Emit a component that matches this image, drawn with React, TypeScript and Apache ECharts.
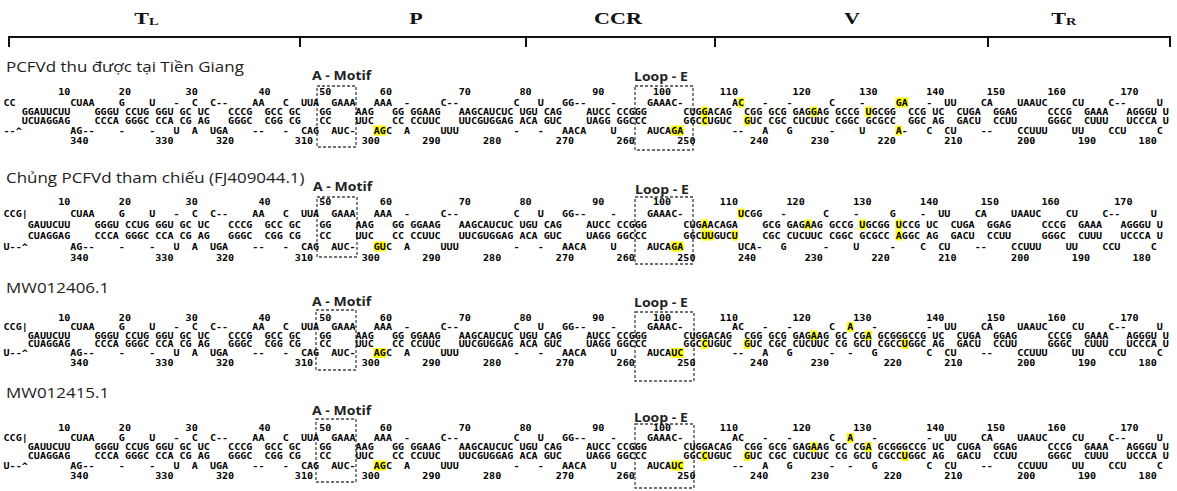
import React, { useEffect, useRef } from "react";
import * as echarts from "echarts";

// ---------------- DATA ----------------
// Region bracket labels (main letter + subscript)
const regionNames = ["T", "P", "CCR", "V", "T"];
const regionSubscripts = ["L", "", "", "", "R"];

const sampleNames = [
  "PCFVd thu được tại Tiền Giang",
  "Chủng PCFVd tham chiếu (FJ409044.1)",
  "MW012406.1",
  "MW012415.1",
];
const motifNames = ["A - Motif", "Loop - E"];

// mfold-style secondary structure, written as alternating loop / stem segments.
// line 1 = unpaired top, line 2 = paired top, line 3 = paired bottom, line 4 = unpaired bottom.
// Lower-case letters are the highlighted (yellow) nucleotides.

// PCFVd thu được tại Tiền Giang
const tgLoopTop = ["CC", "CUAA", "G", "U", "-", "C", "C--", "AA", "C", "UUA", "GAAA", "AAA", "-", "C--", "C", "U", "GG--", "-", "GAAAC-", "Ac", "-", "-", "C", "-", "ga", "-", "UU", "CA", "UAAUC", "CU", "C--", "U"];
const tgStemTop = ["GGAUUCUU", "GGGU", "CCUG", "GGU", "GC", "UC", "CCCG", "GCC", "GC", "GG", "AAG", "GG", "GGAAG", "AAGCAUCUC", "UGU", "CAG", "AUCC", "CCGGG", "CUGgACAG", "CGG", "GCG", "GAGgAG", "GCCG", "uGCGG", "CCG", "UC", "CUGA", "GGAG", "CCCG", "GAAA", "AGGGU", "U"];
const tgStemBottom = ["UCUAGGAG", "CCCA", "GGGC", "CCA", "CG", "AG", "GGGC", "CGG", "CG", "CC", "UUC", "CC", "CCUUC", "UUCGUGGAG", "ACA", "GUC", "UAGG", "GGCCC", "GGCcUGUC", "gUC", "CGC", "CUCUUC", "CGGC", "GCGCC", "GGC", "AG", "GACU", "CCUU", "GGGC", "CUUU", "UCCCA", "U"];
const tgLoopBottom = ["--^", "AG--", "-", "-", "U", "A", "UGA", "--", "-", "CAG", "AUC-", "agC", "A", "UUU", "-", "-", "AACA", "U", "AUCAga", "--", "A", "G", "-", "U", "a-", "C", "CU", "--", "CCUUU", "UU", "CCU", "C"];

// Chủng PCFVd tham chiếu (FJ409044.1)
const refLoopTop = ["CCG|", "CUAA", "G", "U", "-", "C", "C--", "AA", "C", "UUA", "GAAA", "AAA", "-", "C--", "C", "U", "GG--", "-", "GAAAC-", "uCGG", "-", "C", "-", "G", "-", "UU", "CA", "UAAUC", "CU", "C--", "U"];
const refStemTop = ["GAUUCUU", "GGGU", "CCUG", "GGU", "GC", "UC", "CCCG", "GCC", "GC", "GG", "AAG", "GG", "GGAAG", "AAGCAUCUC", "UGU", "CAG", "AUCC", "CCGGG", "CUGaACAGA", "GCG", "GAGaAG", "GCCG", "uGCGG", "uCCG", "UC", "CUGA", "GGAG", "CCCG", "GAAA", "AGGGU", "U"];
const refStemBottom = ["CUAGGAG", "CCCA", "GGGC", "CCA", "CG", "AG", "GGGC", "CGG", "CG", "CC", "UUC", "CC", "CCUUC", "UUCGUGGAG", "ACA", "GUC", "UAGG", "GGCCC", "GGCuuGUCu", "CGC", "CUCUUC", "CGGC", "GCGCC", "aGGC", "AG", "GACU", "CCUU", "GGGC", "CUUU", "UCCCA", "U"];
const refLoopBottom = ["U--^", "AG--", "-", "-", "U", "A", "UGA", "--", "-", "CAG", "AUC-", "guC", "A", "UUU", "-", "-", "AACA", "U", "AUCAga", "UCA-", "G", "-", "U", "-", "C", "CU", "--", "CCUUU", "UU", "CCU", "C"];

// MW012406.1
const mw06LoopTop = ["CCG|", "CUAA", "G", "U", "-", "C", "C--", "AA", "C", "UUA", "GAAA", "AAA", "-", "C--", "C", "U", "GG--", "-", "GAAAC-", "AC", "-", "-", "C", "a", "-", "-", "UU", "CA", "UAAUC", "CU", "C--", "U"];
const mw06StemTop = ["GAUUCUU", "GGGU", "CCUG", "GGU", "GC", "UC", "CCCG", "GCC", "GC", "GG", "AAG", "GG", "GGAAG", "AAGCAUCUC", "UGU", "CAG", "AUCC", "CCGGG", "CUGGACAG", "CGG", "GCG", "GAGaAG", "GC", "CGa", "GCGGGCCG", "UC", "CUGA", "GGAG", "CCCG", "GAAA", "AGGGU", "U"];
const mw06StemBottom = ["CUAGGAG", "CCCA", "GGGC", "CCA", "CG", "AG", "GGGC", "CGG", "CG", "CC", "UUC", "CC", "CCUUC", "UUCGUGGAG", "ACA", "GUC", "UAGG", "GGCCC", "GGCcUGUC", "gUC", "CGC", "CUCUUC", "CG", "GCU", "CGCCuGGC", "AG", "GACU", "CCUU", "GGGC", "CUUU", "UCCCA", "U"];
const mw06LoopBottom = ["U--^", "AG--", "-", "-", "U", "A", "UGA", "--", "-", "CAG", "AUC-", "agC", "A", "UUU", "-", "-", "AACA", "U", "AUCAuc", "--", "A", "G", "-", "-", "G", "C", "CU", "--", "CCUUU", "UU", "CCU", "C"];

// MW012415.1 (identical structure to MW012406.1 in the figure)
const mw15LoopTop = [...mw06LoopTop];
const mw15StemTop = [...mw06StemTop];
const mw15StemBottom = [...mw06StemBottom];
const mw15LoopBottom = [...mw06LoopBottom];

// ---------------- LAYOUT ----------------
const P = 6.07; // character pitch
const X0 = 3.5;
const NCOLS = 192;
const FS = 9;
const blockRowsY = [
  [92, 102.5, 111.5, 120.5, 130.5, 141],
  [202, 213.5, 224.5, 235.5, 246.5, 257.5],
  [318, 327, 335.5, 344, 353, 362.5],
  [428, 438, 447, 456, 465.5, 476],
];
const titleY = [66, 177, 287, 392];
const motifPos = [
  [[312, 75], [634, 76]],
  [[313, 186], [635, 189]],
  [[312, 301], [634, 302]],
  [[312, 410], [634, 417]],
];
const boxRects = [
  [[317, 86, 356, 147], [635, 86, 693, 150]],
  [[317, 197, 357, 257], [635, 197, 693, 264]],
  [[316, 310, 356, 370], [635, 312, 694, 381]],
  [[316, 419, 356, 482], [635, 424, 694, 488]],
];
const regionAnchors = [149, 416, 618, 852, 1066];
const bracketTicks = [9, 300, 526, 715, 988, 1170];

type Block = { lt: string[]; st: string[]; sb: string[]; lb: string[] };

const isNt = (ch: string) => /[ACGUacgu]/.test(ch);

function layoutBlock(b: Block): string[][] {
  const rows: string[][] = [[], [], [], []];
  const topCols: number[] = [];
  const botCols: number[] = [];
  let col = 0;
  for (let i = 0; i < b.lt.length; i++) {
    const a = b.lt[i] || "";
    const d = b.lb[i] || "";
    const w = Math.max(a.length, d.length);
    for (let k = 0; k < w; k++) {
      const ca = a[k] || " ";
      const cd = d[k] || " ";
      rows[0][col + k] = ca;
      rows[1][col + k] = " ";
      rows[2][col + k] = " ";
      rows[3][col + k] = cd;
      if (isNt(ca)) topCols.push(col + k);
      if (isNt(cd)) botCols.push(col + k);
    }
    col += w;
    const s = b.st[i] || "";
    const t = b.sb[i] || "";
    for (let k = 0; k < s.length; k++) {
      rows[0][col + k] = " ";
      rows[1][col + k] = s[k];
      rows[2][col + k] = t[k] || " ";
      rows[3][col + k] = " ";
      topCols.push(col + k);
      if (isNt(t[k] || "")) botCols.push(col + k);
    }
    col += s.length;
  }
  const T = topCols.length;
  const top: string[] = Array(col + 4).fill(" ");
  const bot: string[] = Array(col + 4).fill(" ");
  for (let n = 10; n <= T; n += 10) {
    const lab = String(n);
    const end = topCols[n - 1];
    for (let k = 0; k < lab.length; k++) top[end - lab.length + 1 + k] = lab[k];
  }
  const botSorted = [...botCols].sort((x, y) => y - x);
  botSorted.forEach((c, j) => {
    const n = T + 1 + j;
    if (n % 10 === 0) {
      const lab = String(n);
      for (let k = 0; k < lab.length; k++) bot[c + k] = lab[k];
    }
  });
  return [top, ...rows, bot];
}

function tokens(chars: string[]) {
  const out: { col: number; text: string }[] = [];
  let cur = "";
  let start = -1;
  for (let i = 0; i <= chars.length; i++) {
    const ch = chars[i];
    if (ch && ch !== " ") {
      if (start < 0) start = i;
      cur += ch;
    } else if (start >= 0) {
      out.push({ col: start, text: cur });
      cur = "";
      start = -1;
    }
  }
  return out;
}

export default function App() {
  const ref = useRef<HTMLDivElement>(null);
  useEffect(() => {
    const el = ref.current;
    if (!el) return;
    const chart = echarts.init(el, null, { renderer: "svg" });
    const blocks: Block[] = [
      { lt: tgLoopTop, st: tgStemTop, sb: tgStemBottom, lb: tgLoopBottom },
      { lt: refLoopTop, st: refStemTop, sb: refStemBottom, lb: refLoopBottom },
      { lt: mw06LoopTop, st: mw06StemTop, sb: mw06StemBottom, lb: mw06LoopBottom },
      { lt: mw15LoopTop, st: mw15StemTop, sb: mw15StemBottom, lb: mw15LoopBottom },
    ];
    const items: { col: number; y: number; text: string }[] = [];
    blocks.forEach((b, bi) => {
      const lines = layoutBlock(b);
      lines.forEach((chars, ri) => {
        tokens(chars).forEach((t) => items.push({ col: t.col, y: blockRowsY[bi][ri], text: t.text }));
      });
    });

    const graphic: any[] = [];
    graphic.push({
      type: "line",
      shape: { x1: 8, y1: 37, x2: 1171, y2: 37 },
      style: { stroke: "#111", lineWidth: 2 },
    });
    bracketTicks.forEach((x) =>
      graphic.push({
        type: "line",
        shape: { x1: x, y1: 36, x2: x, y2: 47 },
        style: { stroke: "#111", lineWidth: 2 },
      })
    );
    regionNames.forEach((name, i) => {
      const sub = regionSubscripts[i];
      const x = regionAnchors[i];
      graphic.push({
        type: "text",
        x,
        y: 18,
        scaleX: 1.3,
        style: {
          text: name,
          fontFamily: "Liberation Serif",
          fontWeight: "bold",
          fontSize: 17,
          fill: "#111",
          align: sub ? "right" : "center",
          textAlign: sub ? "right" : "center",
          verticalAlign: "middle",
          textVerticalAlign: "middle",
        },
      });
      if (sub) {
        graphic.push({
          type: "text",
          x,
          y: 22,
          scaleX: 1.3,
          style: {
            text: sub,
            fontFamily: "Liberation Serif",
            fontWeight: "bold",
            fontSize: 11,
            fill: "#111",
            align: "left",
            textAlign: "left",
            verticalAlign: "middle",
            textVerticalAlign: "middle",
          },
        });
      }
    });
    sampleNames.forEach((name, i) => {
      graphic.push({
        type: "text",
        x: 6,
        y: titleY[i],
        scaleX: 1.13,
        style: {
          text: name,
          fontFamily: "Open Sans",
          fontSize: 15,
          fill: "#222",
          align: "left",
          textAlign: "left",
          verticalAlign: "middle",
          textVerticalAlign: "middle",
        },
      });
      motifNames.forEach((m, j) => {
        const [mx, my] = motifPos[i][j];
        graphic.push({
          type: "text",
          x: mx,
          y: my,
          scaleX: 1.08,
          style: {
            text: m,
            fontFamily: "Open Sans",
            fontWeight: "bold",
            fontSize: 13,
            fill: "#222",
            align: "left",
            textAlign: "left",
            verticalAlign: "middle",
            textVerticalAlign: "middle",
          },
        });
        const [x1, y1, x2, y2] = boxRects[i][j];
        graphic.push({
          type: "rect",
          shape: { x: x1, y: y1, width: x2 - x1, height: y2 - y1 },
          style: { fill: "none", stroke: "#444", lineWidth: 1.3, lineDash: [3, 2] },
        });
      });
    });

    const option: any = {
      animation: false,
      backgroundColor: "#fff",
      grid: { left: X0, top: 0, width: NCOLS * P, height: 491 },
      xAxis: { type: "value", min: 0, max: NCOLS, show: false },
      yAxis: { type: "value", min: 0, max: 491, inverse: true, show: false },
      graphic,
      series: [
        {
          type: "custom",
          coordinateSystem: "cartesian2d",
          silent: true,
          progressive: 0,
          clip: false,
          data: items.map((it) => [it.col, it.y]),
          renderItem: (params: any, api: any) => {
            const it = items[params.dataIndex];
            const p0 = api.coord([it.col, it.y]);
            const p1 = api.coord([it.col + 1, it.y]);
            const cw = p1[0] - p0[0];
            const children: any[] = [];
            for (let k = 0; k < it.text.length; k++) {
              const ch = it.text[k];
              if (/[a-z]/.test(ch)) {
                children.push({
                  type: "rect",
                  shape: { x: p0[0] + k * cw - 0.4, y: p0[1] - 5, width: cw + 0.8, height: 10 },
                  style: { fill: "#ffff00" },
                });
              }
            }
            children.push({
              type: "text",
              x: p0[0],
              y: p0[1],
              scaleX: cw / (FS * 0.602),
              style: {
                text: it.text.toUpperCase(),
                fontFamily: "DejaVu Sans Mono",
                fontWeight: "bold",
                fontSize: FS,
                fill: "#000",
                align: "left",
                textAlign: "left",
                verticalAlign: "middle",
                textVerticalAlign: "middle",
              },
            });
            return { type: "group", children };
          },
        },
      ],
    };
    chart.setOption(option);
    return () => chart.dispose();
  }, []);
  return (
    <div
      ref={ref}
      style={{ position: "absolute", left: 0, top: 0, width: 1177, height: 491, background: "#fff" }}
    />
  );
}
